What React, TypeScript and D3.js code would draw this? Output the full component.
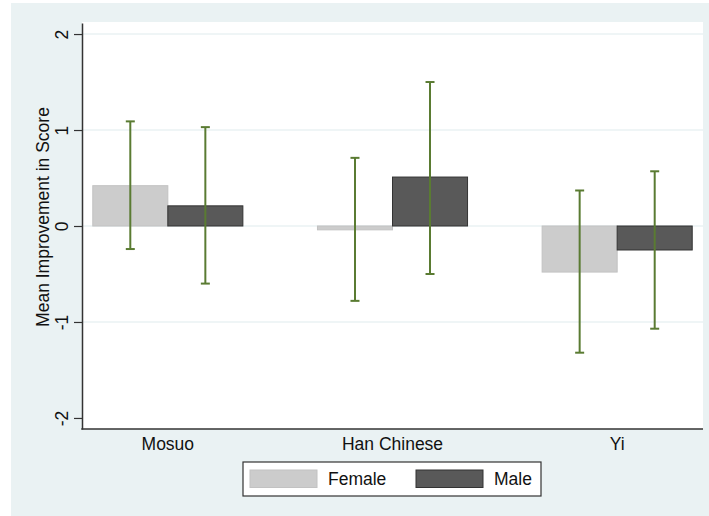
import React, { useEffect, useRef } from "react";
import * as d3 from "d3";

const categories = ["Mosuo", "Han Chinese", "Yi"];
const groups = ["Female", "Male"];
const femaleMean = [0.42, -0.04, -0.48];
const maleMean = [0.21, 0.51, -0.25];
const femaleLow = [-0.24, -0.78, -1.32];
const femaleHigh = [1.09, 0.71, 0.37];
const maleLow = [-0.6, -0.5, -1.07];
const maleHigh = [1.03, 1.5, 0.57];
const yTicks = [2, 1, 0, -1, -2];

const FONT = "'Liberation Sans', Arial, Helvetica, sans-serif";
const FS = 17.5;

const App = () => {
  const ref = useRef<SVGSVGElement>(null);

  useEffect(() => {
    const W = 709;
    const H = 516;
    const left = 82;
    const right = 703;
    const top = 23;
    const bottom = 429;

    const svg = d3.select(ref.current).attr("width", W).attr("height", H);
    svg.selectAll("*").remove();

    // graph region + plot region
    svg.append("rect").attr("x", 11).attr("y", 3).attr("width", W - 11).attr("height", H - 3).attr("fill", "#eaf2f3");
    svg.append("rect").attr("x", left).attr("y", top - 1).attr("width", right - left).attr("height", bottom - top + 1).attr("fill", "#ffffff");

    const x = d3.scaleBand().domain(categories).range([left, right]).paddingInner(0.332).paddingOuter(0.048);
    const xSub = d3.scaleBand().domain(groups).range([0, x.bandwidth()]);
    const y = d3.scaleLinear().domain([-2.115, 2.115]).range([bottom, top]);

    // grid
    svg.append("g")
      .selectAll("line")
      .data(yTicks.filter((t) => t > -2))
      .enter()
      .append("line")
      .attr("x1", left)
      .attr("x2", right)
      .attr("y1", (d) => y(d))
      .attr("y2", (d) => y(d))
      .attr("stroke", "#eaf2f3")
      .attr("stroke-width", 1.5);

    const rows = categories.map((c, i) => [
      { cat: c, g: "Female", v: femaleMean[i], lo: femaleLow[i], hi: femaleHigh[i] },
      { cat: c, g: "Male", v: maleMean[i], lo: maleLow[i], hi: maleHigh[i] },
    ]).flat();

    const fill: Record<string, string> = { Female: "#cccccc", Male: "#595959" };
    const edge: Record<string, string> = { Female: "#c2c2c2", Male: "#333333" };

    svg.append("g")
      .selectAll("rect")
      .data(rows)
      .enter()
      .append("rect")
      .attr("x", (d) => (x(d.cat) as number) + (xSub(d.g) as number))
      .attr("width", xSub.bandwidth())
      .attr("y", (d) => Math.min(y(d.v), y(0)))
      .attr("height", (d) => Math.abs(y(d.v) - y(0)))
      .attr("fill", (d) => fill[d.g])
      .attr("stroke", (d) => edge[d.g])
      .attr("stroke-width", 1);

    // error bars
    const eb = svg.append("g").attr("stroke", "#5a7b32").attr("stroke-width", 2);
    rows.forEach((d) => {
      const cx = (x(d.cat) as number) + (xSub(d.g) as number) + xSub.bandwidth() / 2;
      eb.append("line").attr("x1", cx).attr("x2", cx).attr("y1", y(d.hi)).attr("y2", y(d.lo));
      eb.append("line").attr("x1", cx - 4.5).attr("x2", cx + 4.5).attr("y1", y(d.hi)).attr("y2", y(d.hi));
      eb.append("line").attr("x1", cx - 4.5).attr("x2", cx + 4.5).attr("y1", y(d.lo)).attr("y2", y(d.lo));
    });

    // y axis
    const yAxis = svg.append("g")
      .attr("transform", `translate(${left},0)`)
      .call(d3.axisLeft(y).tickValues(yTicks).tickSize(8).tickSizeOuter(0).tickFormat((d) => String(d)));
    yAxis.select(".domain").attr("stroke", "#333333").attr("stroke-width", 1.5);
    yAxis.selectAll(".tick line").attr("stroke", "#333333").attr("stroke-width", 1.2);
    yAxis.selectAll(".tick text")
      .attr("x", null)
      .attr("dy", null)
      .attr("transform", "translate(-14,0) rotate(-90)")
      .attr("text-anchor", "middle")
      .attr("font-family", FONT)
      .attr("font-size", FS)
      .attr("fill", "#111111");

    // x axis
    const xAxis = svg.append("g")
      .attr("transform", `translate(0,${bottom})`)
      .call(d3.axisBottom(x).tickSize(0).tickSizeOuter(0));
    xAxis.select(".domain").attr("stroke", "#333333").attr("stroke-width", 1.5).attr("d", `M${left - 0.75},0H${right}`);
    xAxis.selectAll(".tick text")
      .attr("y", 21)
      .attr("dy", null)
      .attr("font-family", FONT)
      .attr("font-size", FS)
      .attr("fill", "#111111");

    // y title
    svg.append("text")
      .attr("transform", "translate(49,217) rotate(-90)")
      .attr("text-anchor", "middle")
      .attr("font-family", FONT)
      .attr("font-size", FS)
      .attr("fill", "#111111")
      .text("Mean Improvement in Score");

    // legend
    const lg = svg.append("g");
    lg.append("rect").attr("x", 243).attr("y", 462).attr("width", 298).attr("height", 34)
      .attr("fill", "#ffffff").attr("stroke", "#333333").attr("stroke-width", 1.2);
    const items = [
      { g: "Female", sx: 250, tx: 328 },
      { g: "Male", sx: 416, tx: 494 },
    ];
    items.forEach((it) => {
      lg.append("rect").attr("x", it.sx).attr("y", 470).attr("width", 67).attr("height", 17.5)
        .attr("fill", fill[it.g]).attr("stroke", edge[it.g]).attr("stroke-width", 1);
      lg.append("text").attr("x", it.tx).attr("y", 485)
        .attr("font-family", FONT).attr("font-size", FS).attr("fill", "#111111").text(it.g);
    });
  }, []);

  return (
    <div style={{ position: "absolute", left: 0, top: 0 }}>
      <svg ref={ref}></svg>
    </div>
  );
};

export default App;
